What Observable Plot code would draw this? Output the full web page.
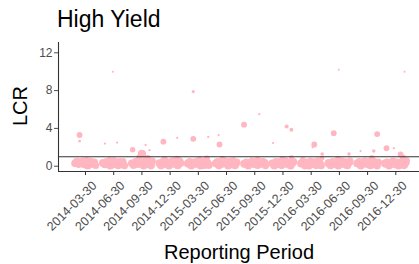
<!DOCTYPE html>
<html>
<head>
<meta charset="utf-8">
<script src="https://cdn.jsdelivr.net/npm/d3@7"></script>
<script src="https://cdn.jsdelivr.net/npm/@observablehq/plot@0.6"></script>
<style>
  html, body { margin: 0; padding: 0; background: #fff; }
  #wrap { position: relative; width: 419px; height: 264px; font-family: "Liberation Sans", Arial, sans-serif; overflow: hidden; }
  #wrap svg { position: absolute; left: 0; top: 0; }
  .lbl { position: absolute; white-space: nowrap; color: #000; line-height: 1; }
  #title { left: 57px; top: 8px; font-size: 23px; }
  #ylab { left: 20px; top: 106px; font-size: 20px; transform: translate(-50%, -50%) rotate(-90deg); }
  #xlab { left: 239px; top: 242px; font-size: 20px; transform: translateX(-50%); }
</style>
</head>
<body>
<div id="wrap">
  <div id="plot"></div>
  <div class="lbl" id="title">High Yield</div>
  <div class="lbl" id="ylab">LCR</div>
  <div class="lbl" id="xlab">Reporting Period</div>
</div>
<script>
// Categories (reporting periods)
const periods = ["2014-03-30","2014-06-30","2014-09-30","2014-12-30","2015-03-30","2015-06-30",
                 "2015-09-30","2015-12-30","2016-03-30","2016-06-30","2016-09-30","2016-12-30"];
const yTicks = [0, 4, 8, 12];
const threshold = [1];

// Observations per period: [LCR, jitter (fraction of category step), bank weight]
const p2014_03 = [[0.30,-0.37,70],[0.45,-0.30,80],[0.20,-0.24,65],[0.38,-0.17,85],[0.55,-0.10,60],[0.25,-0.05,90],
  [0.42,0.02,75],[0.05,0.08,70],[0.35,0.13,85],[0.50,0.19,70],[0.28,0.25,80],[0.40,0.31,75],[0.08,0.36,60],
  [0.62,0.05,50],[0.33,-0.12,70],[0.22,0.20,55],[0.48,-0.33,45],[3.3,-0.21,40],[2.65,-0.21,8]];
const p2014_06 = [[0.35,-0.38,75],[0.22,-0.31,80],[0.48,-0.26,60],[0.30,-0.19,85],[0.05,-0.12,70],[0.42,-0.06,80],
  [0.55,0.00,65],[0.25,0.04,85],[0.38,0.10,90],[0.10,0.16,75],[0.45,0.22,70],[0.30,0.28,80],[0.52,0.33,55],
  [0.08,0.38,65],[0.65,-0.15,45],[0.35,0.05,60],[10.0,-0.03,5],[2.4,-0.31,6],[2.5,0.12,6]];
const p2014_09 = [[0.30,-0.36,70],[0.08,-0.30,60],[0.45,-0.22,75],[0.25,-0.14,85],[0.60,-0.08,55],[0.35,-0.02,80],
  [0.05,0.06,70],[0.50,0.12,75],[0.28,0.18,85],[0.40,0.26,70],[0.10,0.32,80],[0.55,0.37,60],[0.85,0.20,50],
  [0.95,-0.10,40],[1.3,0.00,80],[1.75,-0.33,35],[2.25,0.13,6],[1.7,0.27,6]];
const p2014_12 = [[0.32,-0.38,75],[0.10,-0.32,80],[0.50,-0.25,65],[0.28,-0.18,85],[0.42,-0.10,75],[0.05,-0.04,70],
  [0.35,0.03,90],[0.55,0.09,70],[0.25,0.15,80],[0.40,0.21,75],[0.08,0.27,70],[0.48,0.33,80],[0.30,0.38,60],
  [0.70,-0.20,55],[0.75,0.25,50],[2.6,-0.24,40],[3.0,0.25,6]];
const p2015_03 = [[0.28,-0.37,80],[0.45,-0.31,70],[0.08,-0.25,75],[0.38,-0.18,85],[0.25,-0.11,80],[0.52,-0.04,65],
  [0.32,0.02,90],[0.05,0.08,70],[0.42,0.14,80],[0.12,0.20,75],[0.55,0.26,60],[0.35,0.32,85],[0.10,0.37,70],
  [0.65,0.05,50],[0.80,0.30,45],[0.40,-0.25,60],[2.9,-0.18,40],[7.9,-0.18,12],[3.1,0.35,6]];
const p2015_06 = [[0.30,-0.38,75],[0.50,-0.33,60],[0.10,-0.27,80],[0.40,-0.20,85],[0.25,-0.13,70],[0.55,-0.07,65],
  [0.35,0.00,85],[0.05,0.06,70],[0.45,0.12,80],[0.28,0.19,85],[0.60,0.24,55],[0.10,0.30,75],[0.40,0.36,70],
  [0.75,-0.15,45],[3.3,-0.28,6],[2.3,-0.25,40]];
const p2015_09 = [[0.25,-0.37,80],[0.42,-0.30,70],[0.08,-0.23,75],[0.35,-0.16,85],[0.55,-0.10,60],[0.28,-0.03,90],
  [0.45,0.04,75],[0.10,0.10,70],[0.38,0.16,85],[0.25,0.23,75],[0.50,0.29,65],[0.32,0.35,80],[0.05,0.38,60],
  [0.70,0.10,45],[4.4,-0.38,40],[5.5,0.16,6]];
const p2015_12 = [[0.30,-0.38,75],[0.08,-0.31,80],[0.45,-0.25,70],[0.28,-0.18,85],[0.50,-0.11,60],[0.12,-0.05,80],
  [0.38,0.02,90],[0.55,0.08,65],[0.25,0.14,80],[0.40,0.20,75],[0.05,0.27,70],[0.35,0.33,80],[0.48,0.38,60],
  [0.72,-0.02,45],[0.90,0.30,30],[2.45,-0.35,6],[4.2,0.13,20],[3.85,0.30,18]];
const p2016_03 = [[0.28,-0.36,75],[0.45,-0.29,65],[0.10,-0.22,80],[0.38,-0.15,85],[0.05,-0.08,70],[0.50,-0.02,70],
  [0.30,0.05,90],[0.42,0.11,75],[0.12,0.17,80],[0.55,0.23,60],[0.33,0.29,80],[0.08,0.35,70],[0.65,-0.30,45],
  [0.85,0.38,30],[2.3,0.11,40],[2.0,0.05,6],[1.3,0.39,15]];
const p2016_06 = [[0.32,-0.38,80],[0.10,-0.31,75],[0.48,-0.24,65],[0.28,-0.17,85],[0.40,-0.10,80],[0.05,-0.04,70],
  [0.35,0.03,90],[0.52,0.09,70],[0.25,0.15,85],[0.42,0.22,75],[0.08,0.28,70],[0.38,0.34,80],[0.55,0.38,55],
  [0.80,-0.05,40],[10.2,-0.02,5],[3.5,-0.20,40],[1.3,0.34,15]];
const p2016_09 = [[0.30,-0.37,75],[0.45,-0.30,70],[0.10,-0.24,85],[0.38,-0.17,80],[0.55,-0.10,60],[0.25,-0.03,85],
  [0.42,0.04,80],[0.08,0.10,70],[0.35,0.16,90],[0.50,0.22,70],[0.28,0.28,80],[0.05,0.34,65],[0.45,0.38,60],
  [0.85,0.15,40],[3.4,0.34,40],[1.6,0.22,15],[1.6,-0.25,6]];
const p2016_12 = [[0.28,-0.38,80],[0.42,-0.31,70],[0.08,-0.24,75],[0.35,-0.17,85],[0.52,-0.10,65],[0.25,-0.03,90],
  [0.40,0.04,75],[0.05,0.10,70],[0.32,0.17,85],[0.48,0.23,70],[0.12,0.29,80],[0.38,0.35,75],[0.60,0.38,55],
  [0.90,0.25,45],[1.9,-0.33,40],[1.9,-0.07,6],[10.0,0.31,5],[1.25,0.17,40]];

const byPeriod = [p2014_03,p2014_06,p2014_09,p2014_12,p2015_03,p2015_06,p2015_09,p2015_12,p2016_03,p2016_06,p2016_09,p2016_12];
const data = byPeriod.flatMap((rows, i) => rows.map(([lcr, jitter, weight]) => ({period: periods[i], idx: i, jitter, lcr, weight})));

const xDomain = [-0.957, 11.84];
const yDomain = [-0.56, 13.09];

const chart = Plot.plot({
  width: 419,
  height: 264,
  marginTop: 42,
  marginBottom: 93,
  marginLeft: 58,
  marginRight: 0,
  style: {fontFamily: "'Liberation Sans', Arial, sans-serif", background: "transparent", overflow: "visible"},
  x: {type: "linear", domain: xDomain},
  y: {domain: yDomain},
  r: {type: "sqrt", domain: [0, 100], range: [0, 4.6]},
  marks: [
    Plot.dot(data, {x: d => d.idx + d.jitter, y: "lcr", r: "weight", fill: "#FFB6C1", stroke: "none"}),
    Plot.ruleY(threshold, {stroke: "#333", strokeWidth: 1.2}),
    Plot.ruleX([xDomain[0]], {stroke: "#333", strokeWidth: 1.1}),
    Plot.ruleY([yDomain[0]], {stroke: "#333", strokeWidth: 1.1}),
    Plot.axisY({ticks: yTicks, tickSize: 4, tickPadding: 2, fontSize: 12, color: "#4D4D4D", label: null}),
    Plot.axisX({ticks: periods.map((d, i) => i), tickSize: 4, tickFormat: () => "", color: "#333", label: null}),
    Plot.axisX({ticks: periods.map((d, i) => i), tickFormat: i => periods[i], tickRotate: -45,
                tickSize: 0, tickPadding: 4, fontSize: 12.5, fill: "#4D4D4D", dx: 9, dy: 8, label: null})
  ]
});
document.getElementById("plot").appendChild(chart);
</script>
</body>
</html>
